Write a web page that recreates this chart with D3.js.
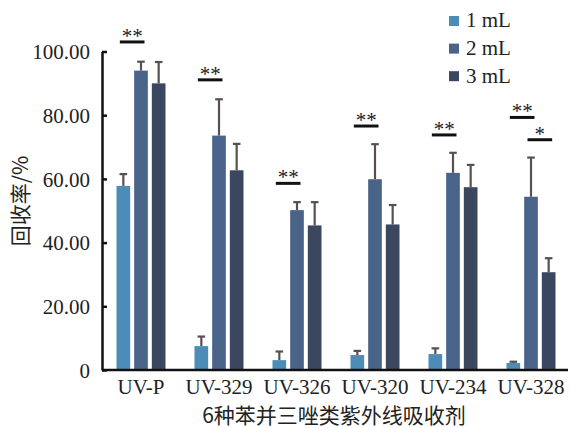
<!DOCTYPE html>
<html>
<head>
<meta charset="utf-8">
<script src="https://cdn.jsdelivr.net/npm/d3@7"></script>
<style>
  html, body { margin: 0; padding: 0; background: #fff; }
  svg { display: block; }
</style>
</head>
<body>
<svg id="chart" width="570" height="428"></svg>
<script>
// ---- data ----
const categories = ["UV-P", "UV-329", "UV-326", "UV-320", "UV-234", "UV-328"];
const series = ["1 mL", "2 mL", "3 mL"];
const values1 = [57.8, 7.5, 3.1, 4.7, 5.0, 2.2];
const values2 = [94.0, 73.6, 50.2, 59.9, 61.9, 54.4];
const values3 = [90.0, 62.7, 45.4, 45.7, 57.4, 30.7];
const errors1 = [3.7, 3.0, 2.7, 1.3, 1.8, 0.4];
const errors2 = [2.8, 11.4, 2.5, 11.0, 6.3, 12.3];
const errors3 = [6.7, 8.3, 7.3, 6.1, 7.0, 4.4];
const yTicks = [0, 20, 40, 60, 80, 100];
// significance marks: category, from-series, to-series, level (y value), label
const sigCategory = ["UV-P", "UV-329", "UV-326", "UV-320", "UV-234", "UV-328", "UV-328"];
const sigFrom = ["1 mL", "1 mL", "1 mL", "1 mL", "1 mL", "1 mL", "2 mL"];
const sigTo = ["2 mL", "2 mL", "2 mL", "2 mL", "2 mL", "2 mL", "3 mL"];
const sigLevel = [103.0, 91.1, 58.6, 76.6, 73.8, 79.3, 72.3];
const sigLabel = ["**", "**", "**", "**", "**", "**", "*"];

const colors = ["#4b8db6", "#4a6489", "#3b465f"];
const valueSets = [values1, values2, values3];
const errorSets = [errors1, errors2, errors3];

// ---- layout ----
const svg = d3.select("#chart");
const mLeft = 102, mRight = 570, mTop = 51.5, mBottom = 370;
const serif = "'Liberation Serif', 'Times New Roman', serif";
const cjk = "'Noto Sans CJK SC', sans-serif";

const x0 = d3.scaleBand().domain(categories).range([mLeft, mRight]).paddingInner(0).paddingOuter(0);
const x1 = d3.scaleBand().domain(series)
  .range([x0.bandwidth() / 2 - 24.5, x0.bandwidth() / 2 + 24.5]).paddingInner(0.226).paddingOuter(0);
const y = d3.scaleLinear().domain([0, 100]).range([mBottom, mTop]);

// bars
const rows = [];
categories.forEach((c, i) => {
  series.forEach((s, j) => {
    rows.push({ c, s, j, v: valueSets[j][i], e: errorSets[j][i] });
  });
});

const g = svg.append("g");
// error bars (behind bars)
const eb = g.selectAll(".err").data(rows).enter().append("g").attr("class", "err");
eb.append("line")
  .attr("x1", d => x0(d.c) + x1(d.s) + x1.bandwidth() / 2)
  .attr("x2", d => x0(d.c) + x1(d.s) + x1.bandwidth() / 2)
  .attr("y1", d => y(d.v))
  .attr("y2", d => y(d.v + d.e))
  .attr("stroke", "#5a4f50").attr("stroke-width", 2.2);
eb.append("line")
  .attr("x1", d => x0(d.c) + x1(d.s) + x1.bandwidth() / 2 - 3.8)
  .attr("x2", d => x0(d.c) + x1(d.s) + x1.bandwidth() / 2 + 3.8)
  .attr("y1", d => y(d.v + d.e))
  .attr("y2", d => y(d.v + d.e))
  .attr("stroke", "#5a4f50").attr("stroke-width", 2.2);

g.selectAll(".bar").data(rows).enter().append("rect")
  .attr("class", "bar")
  .attr("x", d => x0(d.c) + x1(d.s))
  .attr("width", x1.bandwidth())
  .attr("y", d => y(d.v))
  .attr("height", d => y(0) - y(d.v))
  .attr("fill", d => colors[d.j]);

// y axis
const yAxis = d3.axisLeft(y).tickValues(yTicks)
  .tickFormat(d => d === 0 ? "0" : d3.format(".2f")(d))
  .tickSize(-5).tickSizeOuter(0).tickPadding(12);
const ya = svg.append("g").attr("transform", `translate(${mLeft},0)`).call(yAxis);
ya.select(".domain").attr("stroke", "#111").attr("stroke-width", 2.5);
ya.selectAll(".tick line").attr("stroke", "#111").attr("stroke-width", 2.5);
ya.selectAll(".tick text").attr("font-family", serif).attr("font-size", 21).attr("fill", "#222").attr("dy", "0.34em");

// x axis
const xAxis = d3.axisBottom(x0).tickSize(0).tickSizeOuter(0).tickPadding(9);
const xa = svg.append("g").attr("transform", `translate(0,${mBottom})`).call(xAxis);
xa.select(".domain").attr("stroke", "#111").attr("stroke-width", 2.5).attr("d", `M${mLeft},0H${mRight - 2}`);
xa.selectAll(".tick text").attr("font-family", serif).attr("font-size", 21).attr("fill", "#222");

// axis titles
svg.append("text")
  .attr("x", (mLeft + mRight) / 2 - 2).attr("y", 423)
  .attr("text-anchor", "middle")
  .attr("font-family", cjk).attr("font-size", 21).attr("fill", "#222")
  .text("6种苯并三唑类紫外线吸收剂");
svg.append("text")
  .attr("transform", "translate(28,201) rotate(-90)")
  .attr("text-anchor", "middle")
  .attr("font-family", cjk).attr("font-size", 21).attr("fill", "#222")
  .text("回收率/%");

// significance marks
const sig = sigCategory.map((c, i) => ({ c, a: sigFrom[i], b: sigTo[i], lv: sigLevel[i], t: sigLabel[i] }));
const sg = svg.selectAll(".sig").data(sig).enter().append("g");
sg.append("line")
  .attr("x1", d => x0(d.c) + x1(d.a) + x1.bandwidth() / 2 - 3.5)
  .attr("x2", d => x0(d.c) + x1(d.b) + x1.bandwidth() / 2 + 3.5)
  .attr("y1", d => y(d.lv)).attr("y2", d => y(d.lv))
  .attr("stroke", "#111").attr("stroke-width", 3);
sg.append("text")
  .attr("x", d => x0(d.c) + (x1(d.a) + x1(d.b)) / 2 + x1.bandwidth() / 2)
  .attr("y", d => y(d.lv) + 1)
  .attr("text-anchor", "middle")
  .attr("font-family", serif).attr("font-size", 21).attr("fill", "#222")
  .text(d => d.t);

// legend
const lg = svg.selectAll(".leg").data(series).enter().append("g")
  .attr("transform", (d, i) => `translate(449,${16 + i * 27.6})`);
lg.append("rect").attr("width", 10).attr("height", 10).attr("fill", (d, i) => colors[i]);
lg.append("text").attr("x", 17).attr("y", 11.3)
  .attr("font-family", serif).attr("font-size", 21).attr("fill", "#222")
  .text(d => d);
</script>
</body>
</html>
